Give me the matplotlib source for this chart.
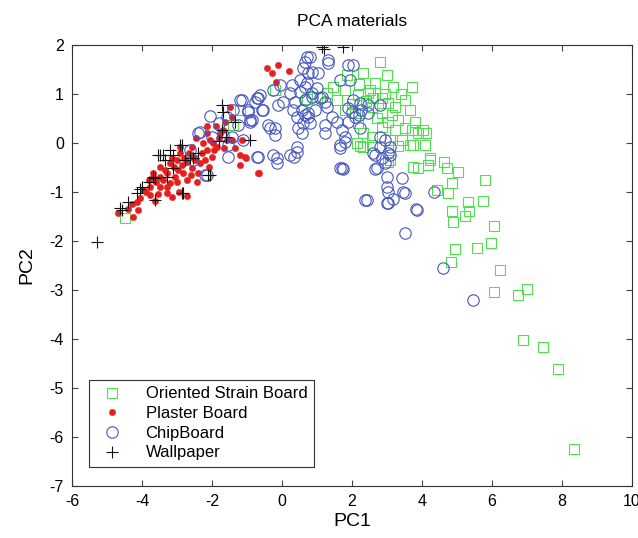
import matplotlib
matplotlib.use("Agg")
import matplotlib.pyplot as plt

plt.rcParams['font.family'] = ['Liberation Sans', 'DejaVu Sans']
plt.rcParams['axes.unicode_minus'] = False

# Oriented Strain Board (PC1, PC2)
osb_pts = [
    (8.34, -6.24), (7.89, -4.61), (7.46, -4.16), (6.89, -4.02), (7.00, -2.98), (6.74, -3.10),
    (6.06, -3.04), (6.23, -2.59), (5.97, -2.04), (6.06, -1.69), (5.57, -2.14), (4.94, -2.16),
    (4.83, -2.43), (4.89, -1.61), (4.86, -1.39), (5.23, -1.49), (5.34, -1.39), (5.31, -1.20),
    (5.74, -1.18), (5.80, -0.76), (4.86, -0.82), (4.74, -1.02), (5.03, -0.59), (4.63, -0.39),
    (4.71, -0.51), (4.23, -0.31), (4.17, -0.45), (3.89, -0.51), (4.09, -0.04), (3.89, 0.20),
    (4.11, 0.20), (4.03, 0.27), (4.43, -0.96), (4.23, -0.35), (3.74, -0.49), (3.09, -0.35),
    (3.03, -0.39),
    (2.80, 1.65), (2.31, 1.43), (3.00, 1.39), (3.71, 1.14), (3.17, 1.14), (2.66, 1.22),
    (1.46, 1.14), (1.80, 1.08), (1.57, 0.88), (2.17, 0.98), (2.46, 1.02), (2.60, 0.92),
    (2.86, 0.92), (3.03, 0.82), (3.23, 0.73), (3.66, 0.67), (3.51, 0.88), (2.57, 0.73),
    (2.86, 0.61), (3.14, 0.57), (3.03, 0.43), (3.31, 0.47), (3.51, 0.31), (3.71, 0.27),
    (3.23, 0.27), (2.86, 0.33), (2.57, 0.12), (3.09, 0.06), (3.43, 0.06), (3.74, -0.04),
    (2.31, 0.20), (2.14, 0.00), (2.17, 0.41), (2.09, 0.61), (1.80, 0.67), (3.80, 0.43),
    (1.86, 1.39), (1.29, 1.02), (1.00, 0.94), (2.51, 1.08), (2.23, -0.06), (2.57, -0.04),
    (3.31, -0.06), (3.66, -0.04), (2.31, -0.08), (2.70, 0.50), (2.40, 0.85), (2.00, 0.80),
    (2.95, 1.00), (3.40, 1.00), (2.20, 1.20), (0.70, 0.90),
    (-1.20, 0.67), (-1.40, 0.37), (-0.20, 1.08), (-4.49, -1.53),
]

# Plaster Board
plaster_pts = [
    (-4.69, -1.43), (-4.26, -1.51), (-4.14, -1.20), (-4.05, -1.12), (-3.63, -1.18), (-3.97, -0.96),
    (-3.77, -0.90), (-3.49, -0.90), (-3.40, -0.76), (-3.69, -0.69), (-3.29, -0.61), (-3.06, -0.69),
    (-3.49, -0.49), (-3.20, -0.41), (-3.00, -0.35), (-2.91, -0.20), (-2.97, -0.55), (-2.71, -0.39),
    (-2.71, -1.08), (-2.71, -0.76), (-2.54, -0.29), (-2.57, -0.08), (-2.40, -0.61), (-2.43, -0.80),
    (-2.34, -0.41), (-2.14, -0.14), (-2.06, 0.06), (-1.86, -0.08), (-2.00, -0.29), (-1.57, 0.06),
    (-1.43, 0.06), (-1.20, -0.24), (-1.06, -0.29), (-1.20, -0.45), (-0.69, -0.61), (-1.43, 0.53),
    (-1.77, 0.20), (-2.14, 0.20), (-4.11, -1.37), (-3.77, -1.06), (-3.29, -1.02), (-3.69, -0.61),
    (-3.20, -0.82), (-2.83, -0.61), (-2.57, -0.51), (-3.14, -0.31), (-2.91, -0.08),
    (-0.43, 1.53), (-0.29, 1.43), (-0.11, 1.59), (0.20, 1.47), (-0.17, 1.24),
    (-0.66, -0.61), (-1.03, -0.31), (-1.14, 0.06), (-1.97, 0.00), (-1.63, 0.43), (-1.69, 0.27),
    (-1.49, 0.73),
    (-3.90, -1.00), (-3.60, -0.80), (-3.50, -0.70), (-3.35, -0.55), (-3.10, -0.50), (-3.00, -0.80),
    (-2.85, -0.45), (-2.80, -0.30), (-2.65, -0.20), (-2.50, -0.35), (-2.30, -0.20), (-2.20, -0.35),
    (-2.25, 0.00), (-1.95, -0.15), (-1.80, 0.10), (-3.30, -0.90), (-3.80, -0.75), (-4.30, -1.25),
    (-4.40, -1.35), (-2.60, -0.65), (-2.95, -1.00), (-3.15, -1.10), (-1.65, -0.10), (-1.35, -0.10),
    (-2.45, 0.10), (-2.15, 0.35), (-1.90, 0.35), (-3.55, -1.05), (-2.10, -0.50),
]

# ChipBoard
chip_pts = [
    (3.83, -1.35), (3.51, -1.84), (4.60, -2.55), (5.46, -3.20), (4.34, -1.00), (3.86, -1.37),
    (1.80, 0.02), (2.60, -0.20), (2.85, -0.30), (3.03, -0.20), (3.09, -0.08), (1.74, -0.53),
    (2.66, -0.53), (3.00, -0.69), (3.43, -0.71), (3.03, -1.00), (3.51, -1.02), (3.17, -1.14),
    (3.03, -1.22), (2.37, -1.16), (2.94, -0.41), (2.71, -0.51), (1.71, -0.51), (2.66, -0.24),
    (3.09, -0.24), (2.80, -0.08), (2.94, 0.06), (2.80, 0.12), (3.00, -0.90), (3.45, -1.00),
    (1.31, 1.69), (0.80, 1.76), (1.89, 1.59), (2.03, 1.59), (0.74, 1.43), (1.03, 1.43),
    (1.66, 1.29), (1.94, 1.29), (0.71, 1.22), (1.00, 1.12), (1.14, 0.94), (0.86, 0.94),
    (1.23, 0.84), (1.29, 0.73), (0.94, 0.67), (0.74, 0.61), (2.03, 0.88), (2.23, 0.82),
    (2.46, 0.78), (2.80, 0.78), (1.89, 0.71), (2.09, 0.53), (1.89, 0.43), (1.43, 0.53),
    (1.57, 0.43), (1.23, 0.37), (0.80, 0.41), (0.66, 0.57), (1.23, 0.20), (1.71, 0.27),
    (2.23, 0.31), (1.80, 0.12), (1.66, -0.10), (0.71, 1.76), (0.66, 1.65), (1.31, 1.63),
    (0.60, 1.53), (0.86, 1.45), (0.51, 1.29), (0.29, 1.18), (0.66, 1.14), (-0.06, 1.18),
    (0.23, 1.02), (0.51, 1.04), (0.86, 1.02), (1.09, 0.92), (0.66, 0.88), (0.37, 0.84),
    (0.03, 0.84), (-0.26, 1.08), (-0.71, 0.92), (-0.57, 0.67), (-0.86, 0.47), (0.31, 0.67),
    (0.57, 0.67), (0.74, 0.53), (0.43, 0.53), (0.60, 0.41), (-0.40, 0.37), (-0.20, 0.31),
    (0.46, 0.31), (0.57, 0.20), (1.66, -0.04), (0.43, -0.08), (0.43, -0.18), (0.23, -0.24),
    (-0.26, -0.24), (-0.71, -0.29), (-0.14, -0.41), (1.66, -0.51), (2.43, -1.16), (3.00, -1.22),
    (2.00, 0.63), (2.20, 0.57), (2.46, 0.61), (2.26, 0.67),
    (-1.14, 0.88), (-0.69, 0.92), (-0.11, 0.78), (-0.54, 0.67), (-0.97, 0.63), (-1.40, 0.67),
    (-1.57, 0.53), (-0.91, 0.47), (-1.26, 0.37), (-1.43, 0.12), (-1.11, 0.06), (-1.54, -0.04),
    (-0.34, 0.31), (-0.20, 0.16), (-0.69, -0.29), (-0.14, -0.31), (0.34, -0.29),
    (-1.54, -0.29), (-2.34, 0.22), (-2.00, 0.12), (-1.20, 0.88), (-0.97, 0.67), (-0.91, 0.43),
    (-1.69, 0.16), (-0.63, 0.98), (-0.77, 0.84), (-2.14, -0.65), (-2.54, -0.35), (-2.63, -0.14),
    (-2.40, 0.20), (-2.20, -0.65), (-1.80, 0.40), (-2.05, 0.55),
]

# Wallpaper
wall_pts = [
    (-5.30, -2.02), (-4.63, -1.33), (-4.57, -1.37), (-4.40, -1.20), (-4.14, -1.02), (-4.06, -0.94),
    (-4.00, -0.90), (-3.69, -0.69), (-3.63, -0.71), (-3.63, -1.16), (-3.49, -0.24), (-3.54, -0.24),
    (-3.11, -0.24), (-3.11, -0.51), (-2.86, -0.04), (-2.54, -0.31), (-2.63, -0.31), (-2.11, -0.65),
    (-2.06, -0.65), (-2.86, -1.02), (-2.83, -1.02), (-3.34, -0.35), (-2.77, -0.35), (-1.71, 0.78),
    (-1.69, 0.63), (-1.34, 0.43), (-1.71, 0.27), (-1.60, 0.12), (-0.91, 0.06), (-2.91, -0.04),
    (-3.40, -0.24), (-3.20, -0.15), (1.14, 1.96), (1.20, 1.92), (1.74, 1.96), (-3.80, -0.80),
    (-3.30, -0.70), (-2.40, -0.20), (-1.80, 0.05),
]

labels = ['Oriented Strain Board', 'Plaster Board', 'ChipBoard', 'Wallpaper']
x_ticks = [-6, -4, -2, 0, 2, 4, 6, 8, 10]
y_ticks = [-7, -6, -5, -4, -3, -2, -1, 0, 1, 2]

fig = plt.figure(figsize=(6.38, 5.38), dpi=100)
ax = fig.add_axes([0.113, 0.0967, 0.8776, 0.8197])

def xy(pts):
    return [p[0] for p in pts], [p[1] for p in pts]

gx, gy = xy(osb_pts)
ax.plot(gx, gy, linestyle='none', marker='s', ms=7.5, mfc='none', mec='#4fdf4f', mew=0.8,
        label=labels[0])
rx, ry = xy(plaster_pts)
ax.plot(rx, ry, linestyle='none', marker='o', ms=4.6, mfc='#e61e1e', mec='#e61e1e', mew=0.3,
        label=labels[1])
bx, by = xy(chip_pts)
ax.plot(bx, by, linestyle='none', marker='o', ms=8.2, mfc='none', mec='#4656c0', mew=0.8,
        label=labels[2])
kx, ky = xy(wall_pts)
ax.plot(kx, ky, linestyle='none', marker='+', ms=9, mec='#111111', mew=0.8,
        label=labels[3])

ax.set_xlim(-6, 10)
ax.set_ylim(-7, 2)
ax.set_xticks(x_ticks)
ax.set_yticks(y_ticks)
ax.tick_params(direction='in', top=True, right=True, length=4, width=0.8,
               labelsize=11.5, pad=6, color='#444444')
for s in ax.spines.values():
    s.set_color('#333333')
    s.set_linewidth(0.8)

ax.set_title('PCA materials', fontsize=12.5, pad=14)
ax.set_xlabel('PC1', fontsize=14, labelpad=3)
ax.set_ylabel('PC2', fontsize=14, labelpad=10)

leg = ax.legend(loc='lower left', bbox_to_anchor=(0.03, 0.043), fontsize=12,
                fancybox=False, edgecolor='#333333', framealpha=1,
                handletextpad=1.0, labelspacing=0.28, borderpad=0.4, borderaxespad=0,
                handlelength=2.0)
leg.get_frame().set_linewidth(0.8)

fig.savefig('out.png', dpi=100)
